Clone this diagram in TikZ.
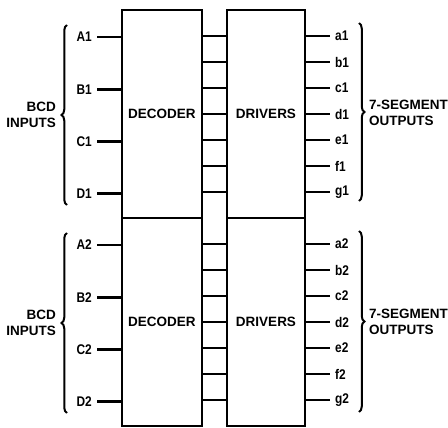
\documentclass[tikz,border=0pt]{standalone}
\usepackage{fontspec}
\setmainfont{Liberation Sans}
\newfontfamily\pinfont[FakeStretch=0.85]{Liberation Sans}
\usetikzlibrary{positioning,decorations.pathreplacing}

\begin{document}
\begin{tikzpicture}[x=1pt, y=-1pt,
  blk/.style={draw, line width=2.8pt, font=\fontsize{13.5}{16}\selectfont\bfseries, inner sep=0pt},
  wire/.style={line width=2.9pt},
  pin/.style={font=\fontsize{14}{16}\pinfont\bfseries, inner xsep=5pt, inner ysep=2pt},
  grp/.style={font=\fontsize{13.5}{16.5}\selectfont\bfseries, inner sep=0pt},
  brc/.style={decorate, decoration={brace, amplitude=5.5pt}, line width=2pt}
]
\useasboundingbox (0,0) rectangle (448,428);
\foreach \k/\yc in {1/114, 2/322} {
  \node[blk, minimum width=80, minimum height=208] (dec\k) at (162,\yc) {DECODER};
  \node[blk, minimum width=78, minimum height=208] (drv\k) at (266,\yc) {DRIVERS};
}
\foreach \k/\ya/\yb in {1/36/37, 2/244/245} {
  \foreach \s [count=\i from 0] in {a,...,g} {
    \pgfmathsetmacro\yy{\ya+26*\i}
    \draw[wire] (dec\k.east |- 0,\yy) -- (drv\k.west |- 0,\yy);
    \node[pin, anchor=west] (\s\k) at (330,\yy) {\s\k};
    \draw[wire] (drv\k.east |- \s\k) -- (\s\k.west);
  }
  \foreach \s [count=\i from 0] in {A,B,C,D} {
    \pgfmathsetmacro\yy{\yb+52.2*\i}
    \node[pin, anchor=east] (\s\k) at (97,\yy) {\s\k};
    \draw[wire] (\s\k.east) -- (dec\k.west |- \s\k);
  }
}
\coordinate (lb1) at (67,205); \coordinate (lt1) at (67,25);
\coordinate (lb2) at (67,413); \coordinate (lt2) at (67,233);
\coordinate (rt1) at (359,23); \coordinate (rb1) at (359,201);
\coordinate (rt2) at (359,231); \coordinate (rb2) at (359,412);
\foreach \k in {1,2} {
  \draw[brc] (lb\k) -- (lt\k);
  \draw[brc] (rt\k) -- (rb\k);
}
\node[grp, align=right, anchor=east] (bcd1) at (56,115) {BCD\\INPUTS};
\node[grp, align=right, anchor=east] (bcd2) at (56,323) {BCD\\INPUTS};
\node[grp, align=left, anchor=west] (seg1) at (369,113) {7-SEGMENT\\OUTPUTS};
\node[grp, align=left, anchor=west] (seg2) at (369,322) {7-SEGMENT\\OUTPUTS};
\end{tikzpicture}
\end{document}
